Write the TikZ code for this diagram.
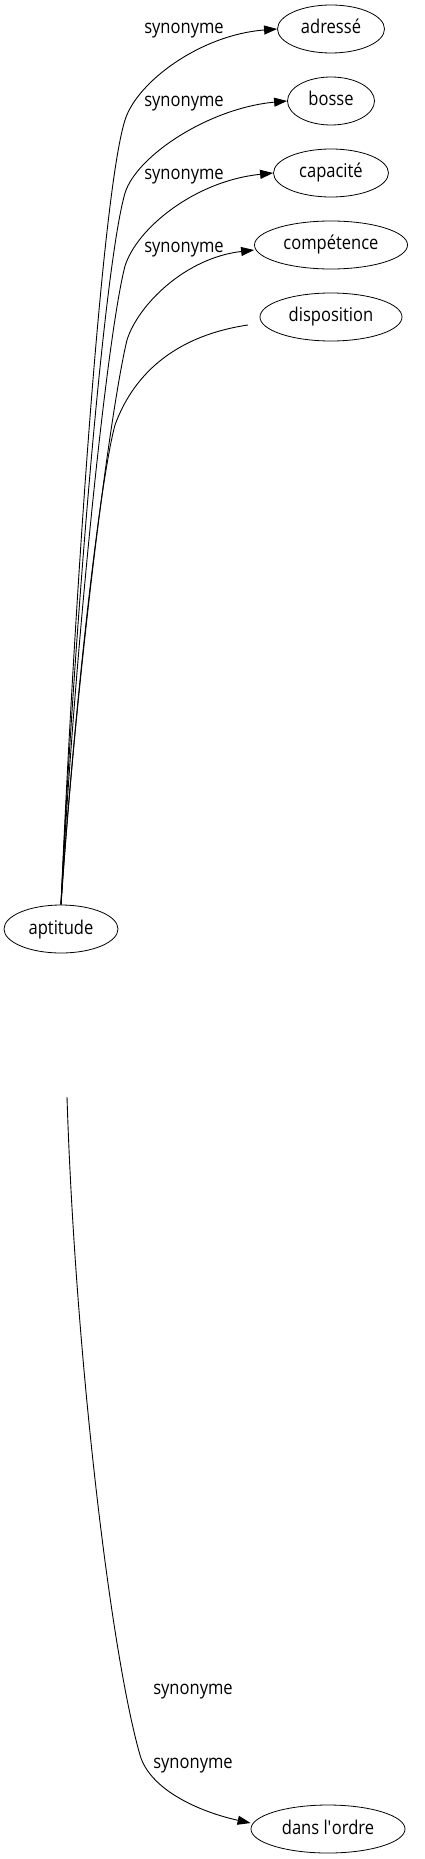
\documentclass[tikz,border=0pt]{standalone}
\usepackage{fontspec}
\setmainfont{Open Sans}[FakeStretch=0.87]
\usetikzlibrary{shapes.geometric,arrows.meta}
\tikzset{
  word/.style={ellipse,draw,line width=0.8pt,inner sep=0pt,minimum height=48pt,
    text height=14pt,text depth=4pt,font=\fontsize{19}{22}\selectfont},
  lab/.style={anchor=base,inner sep=0pt,font=\fontsize{19}{22}\selectfont},
  edge/.style={line width=0.9pt},
  arr/.style={edge,-{Triangle[length=13pt,width=9pt]}}
}
\begin{document}
\begin{tikzpicture}[x=1pt,y=-1pt]
\useasboundingbox (0,0) rectangle (425,1859);
\node[word,minimum width=107pt] (adr) at (331,29) {adressé};
\node[word,minimum width=87pt] (bos) at (331,101) {bosse};
\node[word,minimum width=115pt] (cap) at (331,173) {capacité};
\node[word,minimum width=153pt] (com) at (331,245) {compétence};
\node[word,minimum width=142pt] (dis) at (331,317) {disposition};
\node[word,minimum width=114pt] (apt) at (61,929) {aptitude};
\node[word,minimum width=154pt] (dan) at (328,1829) {dans l\textquotesingle ordre};
\coordinate (disend) at (248,325);
\coordinate (botstart) at (67,1097);

\node[lab] (l1) at (184,34) {synonyme};
\node[lab] (l2) at (184,107) {synonyme};
\node[lab] (l3) at (184,180) {synonyme};
\node[lab] (l4) at (184,253) {synonyme};
\node[lab] (l5) at (193,1694) {synonyme};
\node[lab] (l6) at (193,1768) {synonyme};

\draw[arr] (apt.north) .. controls (72,650) and (100,200) .. (125,120)
  .. controls (137,82) and (200,35) .. (adr.west);
\draw[arr] (apt.north) .. controls (73,650) and (103,270) .. (125,193)
  .. controls (137,155) and (210,108) .. (bos.west);
\draw[arr] (apt.north) .. controls (74,660) and (106,340) .. (125,266)
  .. controls (137,228) and (195,181) .. (cap.west);
\draw[arr] (apt.north) .. controls (76,680) and (110,410) .. (127,340)
  .. controls (138,305) and (185,258) .. ([yshift=-5pt]com.west);
\draw[edge] (apt.north) .. controls (75,700) and (100,480) .. (115,425)
  .. controls (135,370) and (180,335) .. (disend);
\draw[arr] (botstart) .. controls (75,1350) and (110,1650) .. (140,1755)
  .. controls (150,1790) and (200,1812) .. ([yshift=6pt]dan.west);
\end{tikzpicture}
\end{document}
